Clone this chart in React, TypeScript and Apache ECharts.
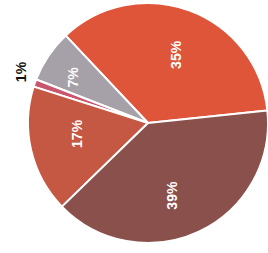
import React, { useEffect, useRef } from "react";
import * as echarts from "echarts";

const categories = ["35%", "7%", "1%", "17%", "39%"];
const values = [35, 7, 1, 17, 39];
const colors = ["#de553a", "#a6a0a9", "#c9566f", "#c45843", "#89504c"];

export default function App() {
  const ref = useRef<HTMLDivElement>(null);
  useEffect(() => {
    if (!ref.current) return;
    const chart = echarts.init(ref.current, null, { renderer: "svg" });
    const R = 120;
    const center = [148, 123];
    // label nudges in the label's own (rotated) frame
    const nudges = [
      [-5, 1],
      [2, -10],
      [6, 0],
      [7, 5],
      [-2, -9],
    ];
    const common = {
      type: "pie",
      center,
      startAngle: 6,
      clockwise: false,
      silent: true,
      avoidLabelOverlap: false,
      labelLine: { show: false },
    };
    const labelStyle = {
      position: "inside",
      rotate: 90,
      formatter: "{b}",
      fontFamily: "Liberation Sans, Arial, sans-serif",
      fontWeight: "bold",
      fontSize: 14,
    };
    chart.setOption({
      animation: false,
      backgroundColor: "#ffffff",
      series: [
        {
          ...common,
          radius: [0, R],
          data: values.map((v, i) => ({
            name: categories[i],
            value: v,
            itemStyle: { color: colors[i] },
          })),
          itemStyle: { borderColor: "#ffffff", borderWidth: 2 },
          label: { show: false },
        },
        {
          ...common,
          radius: [R * 0.45, R * 0.8],
          itemStyle: { color: "transparent" },
          data: values.map((v, i) => ({
            name: categories[i],
            value: v,
            label: { ...labelStyle, show: v >= 5, color: "#ffffff" },
          })),
          label: { ...labelStyle, color: "#ffffff" },
          labelLayout: (p: any) => ({
            dx: nudges[p.dataIndex][0],
            dy: nudges[p.dataIndex][1],
          }),
        },
        {
          ...common,
          radius: [R + 2, R + 22],
          itemStyle: { color: "transparent" },
          data: values.map((v, i) => ({
            name: categories[i],
            value: v,
            label: { ...labelStyle, show: v < 5, color: "#111111" },
          })),
          label: { ...labelStyle, color: "#111111" },
          labelLayout: (p: any) => ({
            rotate: 90,
            dx: nudges[p.dataIndex][0],
            dy: nudges[p.dataIndex][1],
          }),
        },
      ],
    });
    return () => chart.dispose();
  }, []);
  return (
    <div
      ref={ref}
      style={{ position: "fixed", left: 0, top: 0, width: 268, height: 253 }}
    />
  );
}
